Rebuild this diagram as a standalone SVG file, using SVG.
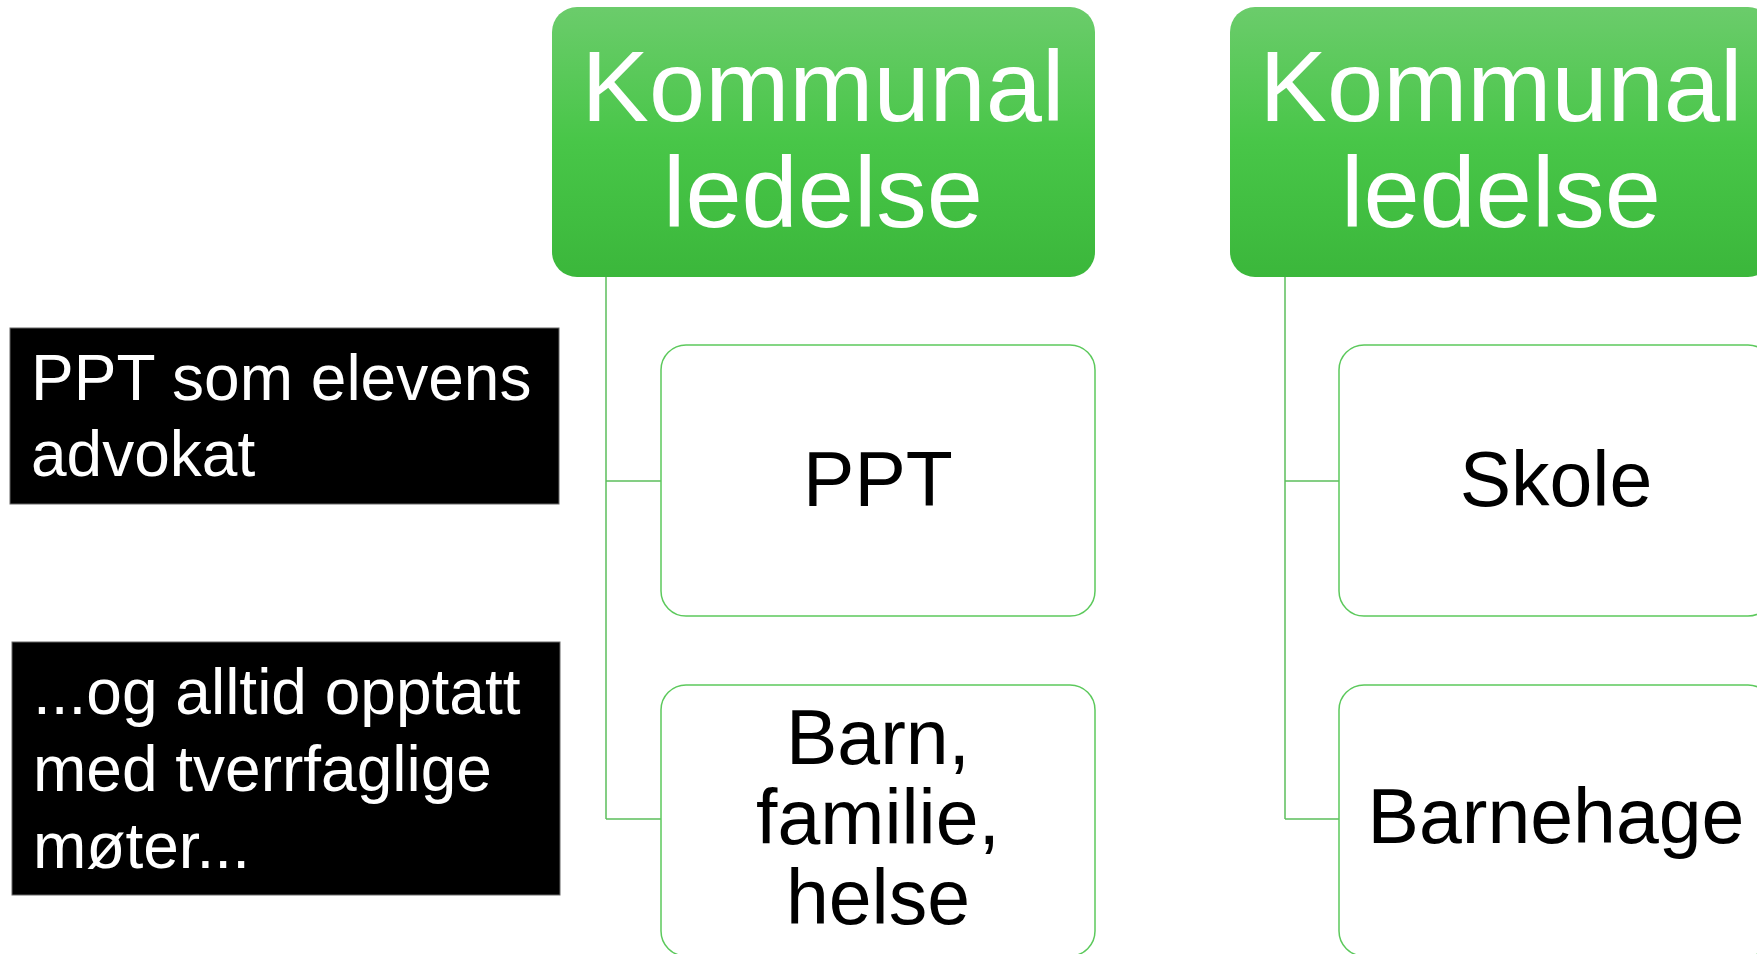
<svg xmlns="http://www.w3.org/2000/svg" width="1757" height="954" viewBox="0 0 1757 954">
<defs>
<linearGradient id="gg" x1="0" y1="0" x2="0" y2="1">
<stop offset="0" stop-color="#6BCC6B"/>
<stop offset="0.5" stop-color="#48C648"/>
<stop offset="1" stop-color="#3BB73B"/>
</linearGradient>
<style>
.head{fill:url(#gg);}
.headt{fill:#fff;font-family:"Liberation Sans",Arial,sans-serif;font-size:101px;text-anchor:middle;}
.child{fill:#fff;stroke:#5CC95C;stroke-width:1.5;}
.childt{fill:#000;font-family:"Liberation Sans",Arial,sans-serif;font-size:77px;text-anchor:middle;}
.note{fill:#000;stroke:#666;stroke-width:1;}
.notet{fill:#fff;font-family:"Liberation Sans",Arial,sans-serif;font-size:64px;}
.conn{fill:none;stroke:#5CBF5C;stroke-width:1.5;}
</style>
</defs>
<rect width="1757" height="954" fill="#fff"/>
<g id="connectors">
<path class="conn" d="M606 277 V819 M606 481 H661 M606 819 H661"/>
<path class="conn" d="M1285 277 V819 M1285 481 H1339 M1285 819 H1339"/>
</g>
<g id="head1">
<rect class="head" x="552" y="7" width="543" height="270" rx="25"/>
<text class="headt" x="823" y="121">Kommunal</text>
<text class="headt" x="823" y="227">ledelse</text>
</g>
<g id="head2">
<rect class="head" x="1230" y="7" width="543" height="270" rx="25"/>
<text class="headt" x="1501" y="121">Kommunal</text>
<text class="headt" x="1501" y="227">ledelse</text>
</g>
<g id="ppt">
<rect class="child" x="661" y="345" width="434" height="271" rx="25"/>
<text class="childt" x="878" y="506">PPT</text>
</g>
<g id="barn">
<rect class="child" x="661" y="685" width="434" height="271" rx="25"/>
<text class="childt" x="878" y="764">Barn,</text>
<text class="childt" x="878" y="844">familie,</text>
<text class="childt" x="878" y="924">helse</text>
</g>
<g id="skole">
<rect class="child" x="1339" y="345" width="434" height="271" rx="25"/>
<text class="childt" x="1556" y="506">Skole</text>
</g>
<g id="barnehage">
<rect class="child" x="1339" y="685" width="434" height="271" rx="25"/>
<text class="childt" x="1556" y="843">Barnehage</text>
</g>
<g id="note1">
<rect class="note" x="10" y="328" width="549" height="176"/>
<text class="notet" x="31" y="400">PPT som elevens</text>
<text class="notet" x="31" y="476">advokat</text>
</g>
<g id="note2">
<rect class="note" x="12" y="642" width="548" height="253"/>
<text class="notet" x="33" y="714">...og alltid opptatt</text>
<text class="notet" x="33" y="791">med tverrfaglige</text>
<text class="notet" x="33" y="868">møter...</text>
</g>
</svg>
